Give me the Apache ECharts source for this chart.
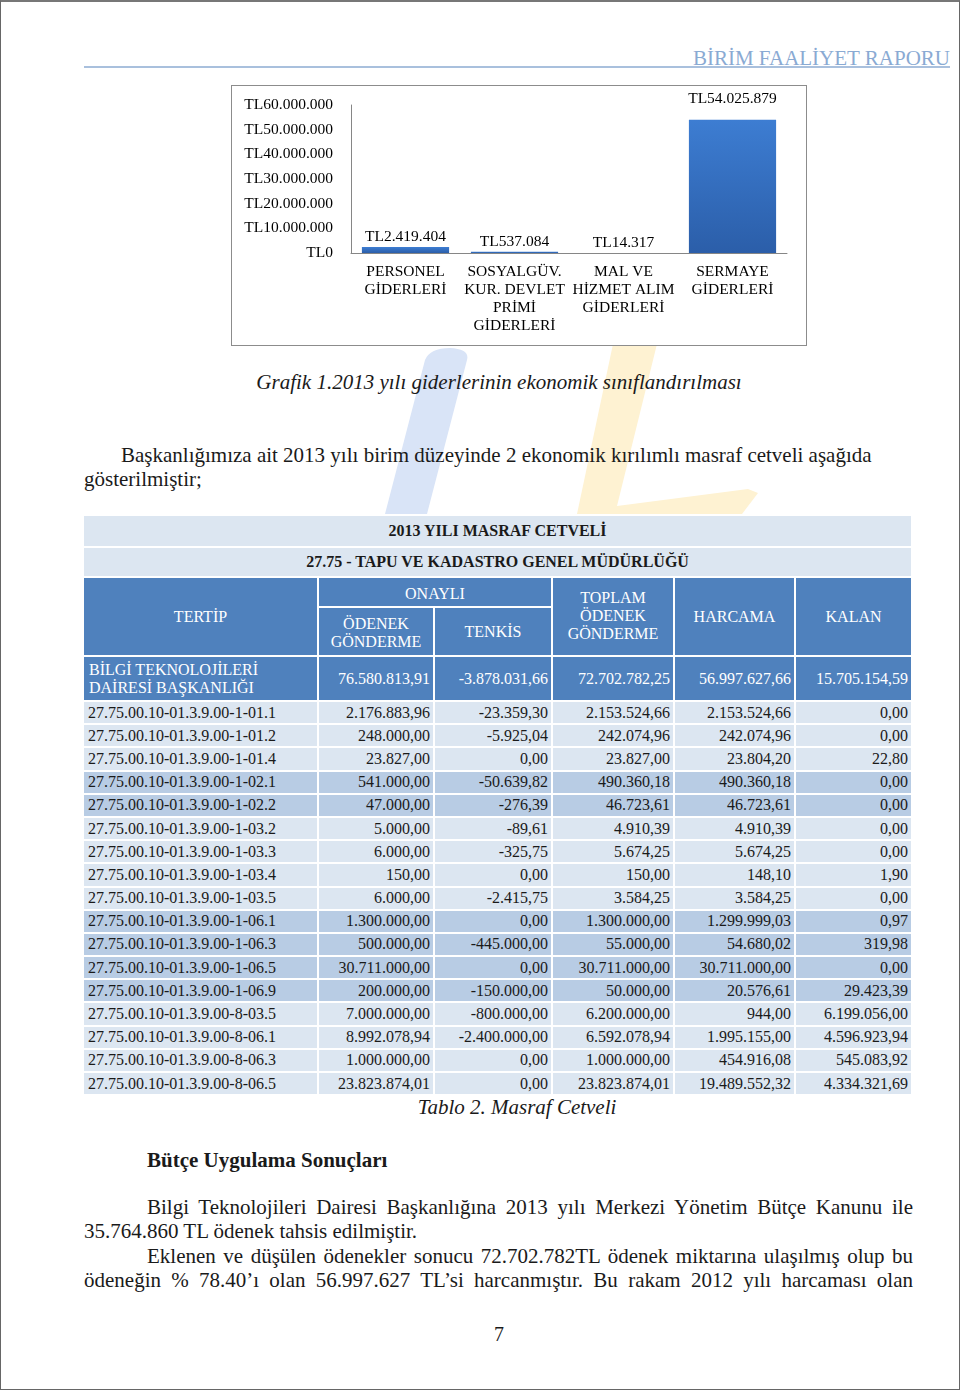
<!DOCTYPE html>
<html>
<head>
<meta charset="utf-8">
<script src="https://cdn.jsdelivr.net/npm/echarts/dist/echarts.min.js"></script>
<style>
    body { margin: 0; background: #fff; font-family: "Liberation Serif", "Times New Roman", serif; color: #1a1a1a; }
    #page { position: relative; width: 960px; height: 1390px; overflow: hidden; }
    #frame { position: absolute; left: 0; top: 0; width: 960px; height: 1390px; box-sizing: border-box;
        border: 1px solid #666; border-top: 2px solid #777; pointer-events: none; }
    .t { position: absolute; white-space: nowrap; line-height: 24px; }
    .just { text-align: justify; text-align-last: justify; }
    #bar { position: absolute; left: 231px; top: 85px; width: 574px; height: 259px; border: 1px solid #8c8c8c; background: #fff; }
    #masraf { position: absolute; left: 82px; top: 514px; border-collapse: separate; border-spacing: 2px;
        table-layout: fixed; width: 831px; font-size: 16px; }
    #masraf td { padding: 0 4px; line-height: 18px; overflow: hidden; white-space: nowrap; }
    #masraf td.num { text-align: right; padding-right: 3px; }
    #masraf .ttl { background: #dce6f1; text-align: center; font-weight: bold; }
    #masraf .hd { background: #4f81bd; color: #fff; text-align: center; white-space: normal; }
    #masraf .light td { background: #dce6f1; }
    #masraf .dark td { background: #b8cce4; }
</style>
</head>
<body>
<div id="page">
    <svg width="960" height="1390" style="position:absolute;left:0;top:0">
        <path d="M385,514 L425,360 Q430,348 450,348 Q470,349 467,360 L427,514 Z" fill="#d9e4f7"/>
        <path d="M577,514 L613,344 L657,344 L617,506 L748,489 L758,493 L742,514 Z" fill="#fef2d2"/>
    </svg>

    <div class="t" style="right:10px;top:46px;font-size:21px;color:#8aaad3;">BİRİM FAALİYET RAPORU</div>
    <div style="position:absolute;left:84px;top:66px;width:866px;height:2px;background:#a9c0dd;"></div>

    <div id="bar"></div>

    <div class="t" style="left:199px;width:600px;text-align:center;top:370px;font-size:21px;font-style:italic;">Grafik 1.2013 yılı giderlerinin ekonomik sınıflandırılması</div>

    <div class="t" style="left:121px;top:443px;font-size:21px;">Başkanlığımıza ait 2013 yılı birim düzeyinde 2 ekonomik kırılımlı masraf cetveli aşağıda</div>
    <div class="t" style="left:84px;top:467px;font-size:21px;">gösterilmiştir;</div>

    <table id="masraf"></table>

    <div class="t" style="left:217px;width:600px;text-align:center;top:1095px;font-size:21px;font-style:italic;">Tablo 2. Masraf Cetveli</div>

    <div class="t" style="left:147px;top:1148px;font-size:21px;font-weight:bold;">Bütçe Uygulama Sonuçları</div>
    <div class="t just" style="left:147px;width:766px;top:1195px;font-size:21px;">Bilgi Teknolojileri Dairesi Başkanlığına 2013 yılı Merkezi Yönetim Bütçe Kanunu ile</div>
    <div class="t" style="left:84px;top:1219px;font-size:21px;">35.764.860 TL ödenek tahsis edilmiştir.</div>
    <div class="t just" style="left:147px;width:766px;top:1244px;font-size:21px;">Eklenen ve düşülen ödenekler sonucu 72.702.782TL ödenek miktarına ulaşılmış olup bu</div>
    <div class="t just" style="left:84px;width:829px;top:1268px;font-size:21px;">ödeneğin % 78.40’ı olan 56.997.627 TL’si harcanmıştır. Bu rakam 2012 yılı harcaması olan</div>

    <div class="t" style="left:479px;width:40px;text-align:center;top:1322px;font-size:20px;">7</div>

    <div id="frame"></div>
</div>

<script>
// Grafik 1 - ekonomik sınıflandırma
var kategoriler = ['PERSONEL\nGİDERLERİ', 'SOSYALGÜV.\nKUR. DEVLET\nPRİMİ\nGİDERLERİ', 'MAL VE\nHİZMET ALIM\nGİDERLERİ', 'SERMAYE\nGİDERLERİ'];
var giderler = [2419404, 537084, 14317, 54025879];
var eksenMax = 60000000;
var eksenAdim = 10000000;

// Tablo 2 - masraf cetveli
var toplamSatir = ['BİLGİ TEKNOLOJİLERİ\nDAİRESİ BAŞKANLIĞI', '76.580.813,91', '-3.878.031,66', '72.702.782,25', '56.997.627,66', '15.705.154,59'];
var tertipler = [
    '27.75.00.10-01.3.9.00-1-01.1', '27.75.00.10-01.3.9.00-1-01.2', '27.75.00.10-01.3.9.00-1-01.4',
    '27.75.00.10-01.3.9.00-1-02.1', '27.75.00.10-01.3.9.00-1-02.2', '27.75.00.10-01.3.9.00-1-03.2',
    '27.75.00.10-01.3.9.00-1-03.3', '27.75.00.10-01.3.9.00-1-03.4', '27.75.00.10-01.3.9.00-1-03.5',
    '27.75.00.10-01.3.9.00-1-06.1', '27.75.00.10-01.3.9.00-1-06.3', '27.75.00.10-01.3.9.00-1-06.5',
    '27.75.00.10-01.3.9.00-1-06.9', '27.75.00.10-01.3.9.00-8-03.5', '27.75.00.10-01.3.9.00-8-06.1',
    '27.75.00.10-01.3.9.00-8-06.3', '27.75.00.10-01.3.9.00-8-06.5'
];
var odenek = ['2.176.883,96', '248.000,00', '23.827,00', '541.000,00', '47.000,00', '5.000,00', '6.000,00', '150,00', '6.000,00',
    '1.300.000,00', '500.000,00', '30.711.000,00', '200.000,00', '7.000.000,00', '8.992.078,94', '1.000.000,00', '23.823.874,01'];
var tenkis = ['-23.359,30', '-5.925,04', '0,00', '-50.639,82', '-276,39', '-89,61', '-325,75', '0,00', '-2.415,75',
    '0,00', '-445.000,00', '0,00', '-150.000,00', '-800.000,00', '-2.400.000,00', '0,00', '0,00'];
var toplamOdenek = ['2.153.524,66', '242.074,96', '23.827,00', '490.360,18', '46.723,61', '4.910,39', '5.674,25', '150,00', '3.584,25',
    '1.300.000,00', '55.000,00', '30.711.000,00', '50.000,00', '6.200.000,00', '6.592.078,94', '1.000.000,00', '23.823.874,01'];
var harcama = ['2.153.524,66', '242.074,96', '23.804,20', '490.360,18', '46.723,61', '4.910,39', '5.674,25', '148,10', '3.584,25',
    '1.299.999,03', '54.680,02', '30.711.000,00', '20.576,61', '944,00', '1.995.155,00', '454.916,08', '19.489.552,32'];
var kalan = ['0,00', '0,00', '22,80', '0,00', '0,00', '0,00', '0,00', '1,90', '0,00',
    '0,97', '319,98', '0,00', '29.423,39', '6.199.056,00', '4.596.923,94', '545.083,92', '4.334.321,69'];

function tl(v) {
    return 'TL' + String(v).replace(/\B(?=(\d{3})+(?!\d))/g, '.');
}

var yazi = '"Liberation Serif", "Times New Roman", serif';
var barChart = echarts.init(document.getElementById('bar'));
var option = {
    animation: false,
    grid: { left: 119, right: 19, top: 19, bottom: 92 },
    xAxis: {
        type: 'category',
        data: kategoriler,
        axisLine: { lineStyle: { color: '#868686' } },
        axisTick: { show: false },
        axisLabel: { interval: 0, margin: 10, color: '#000', fontFamily: yazi, fontSize: 15.5, lineHeight: 18 }
    },
    yAxis: {
        type: 'value',
        min: 0,
        max: eksenMax,
        interval: eksenAdim,
        splitLine: { show: false },
        axisLine: { show: true, lineStyle: { color: '#868686' } },
        axisTick: { show: false },
        axisLabel: { margin: 18, color: '#000', fontFamily: yazi, fontSize: 15.5, formatter: tl }
    },
    series: [{
        type: 'bar',
        barWidth: '80%',
        data: giderler.map(function (v, i) {
            return i === giderler.length - 1 ? { value: v, label: { distance: 13 } } : v;
        }),
        itemStyle: {
            color: new echarts.graphic.LinearGradient(0, 0, 0, 1, [
                { offset: 0, color: '#3d7dd2' },
                { offset: 1, color: '#2b5ea9' }
            ])
        },
        label: {
            show: true,
            position: 'top',
            distance: 2,
            color: '#000',
            fontFamily: yazi,
            fontSize: 15.5,
            formatter: function (p) { return tl(p.value); }
        }
    }]
};
barChart.setOption(option);

// tablo
var koyuGruplar = ['-1-02.', '-1-06.'];
var html = '<colgroup><col style="width:233px"><col style="width:114px"><col style="width:116px">' +
    '<col style="width:120px"><col style="width:119px"><col style="width:115px"></colgroup>';
html += '<tr style="height:30px"><td colspan="6" class="ttl">2013 YILI MASRAF CETVELİ</td></tr>';
html += '<tr style="height:28px"><td colspan="6" class="ttl">27.75 - TAPU VE KADASTRO GENEL MÜDÜRLÜĞÜ</td></tr>';
html += '<tr style="height:28px"><td rowspan="2" class="hd">TERTİP</td><td colspan="2" class="hd" style="padding-top:3px">ONAYLI</td>' +
    '<td rowspan="2" class="hd" style="padding-bottom:2px">TOPLAM<br>ÖDENEK<br>GÖNDERME</td>' +
    '<td rowspan="2" class="hd">HARCAMA</td><td rowspan="2" class="hd">KALAN</td></tr>';
html += '<tr style="height:47px"><td class="hd" style="padding-top:2px">ÖDENEK<br>GÖNDERME</td><td class="hd">TENKİS</td></tr>';
html += '<tr style="height:43px"><td class="hd" style="text-align:left;padding-left:5px">' + toplamSatir[0].replace('\n', '<br>') + '</td>';
for (var c = 1; c < toplamSatir.length; c++) {
    html += '<td class="hd" style="text-align:right;padding-right:3px">' + toplamSatir[c] + '</td>';
}
html += '</tr>';
for (var i = 0; i < tertipler.length; i++) {
    var koyu = koyuGruplar.some(function (g) { return tertipler[i].indexOf(g) > -1; });
    html += '<tr class="' + (koyu ? 'dark' : 'light') + '" style="height:21.2px">' +
        '<td>' + tertipler[i] + '</td>' +
        '<td class="num">' + odenek[i] + '</td>' +
        '<td class="num">' + tenkis[i] + '</td>' +
        '<td class="num">' + toplamOdenek[i] + '</td>' +
        '<td class="num">' + harcama[i] + '</td>' +
        '<td class="num">' + kalan[i] + '</td></tr>';
}
document.getElementById('masraf').innerHTML = html;
</script>
</body>
</html>
